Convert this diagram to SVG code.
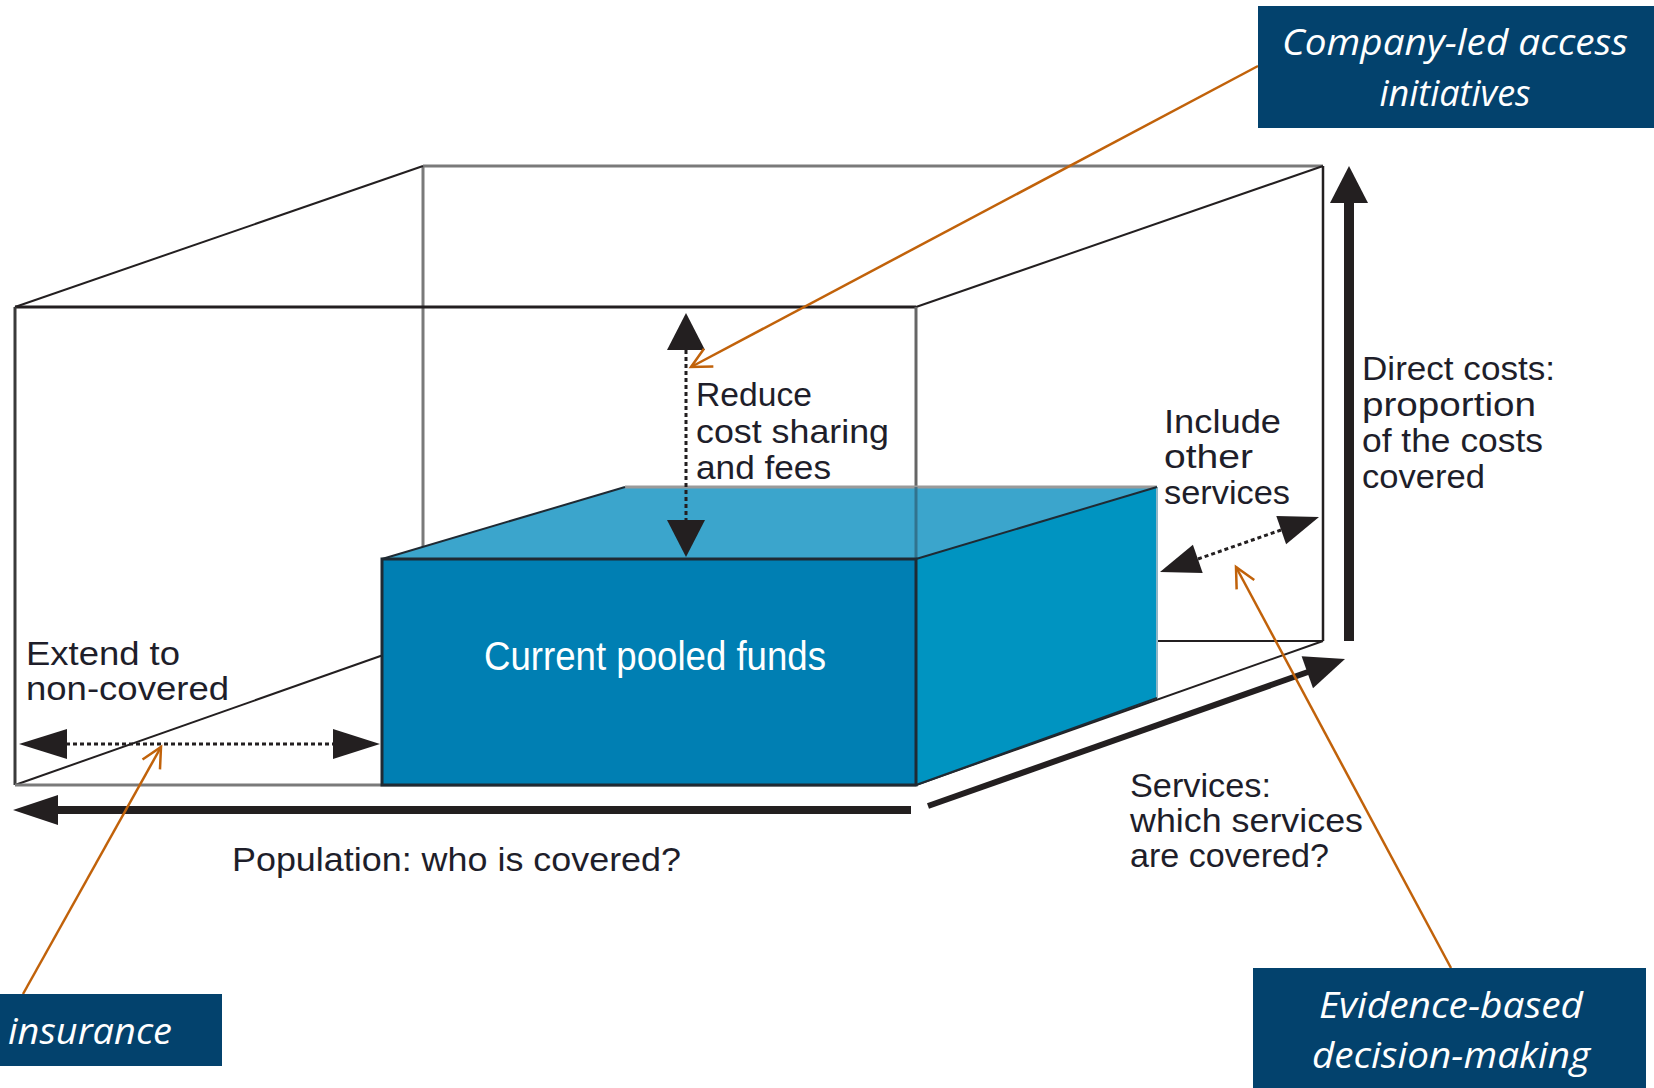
<svg xmlns="http://www.w3.org/2000/svg" width="1654" height="1088" viewBox="0 0 1654 1088">
<style>
  .lbl{font-family:"Liberation Sans Narrow","Liberation Sans",Arial,sans-serif;font-size:34px;fill:#1e1e2a}
  .call{font-family:"Open Sans","Noto Sans",sans-serif;font-style:italic;font-size:36px;fill:#ffffff}
  .navy{fill:#03426d}
  .wf-dark{stroke:#231f20;stroke-width:3;fill:none}
  .wf-gray{stroke:#7a7a7a;stroke-width:3;fill:none}
  .wf-thin{stroke:#231f20;stroke-width:2;fill:none}
  .dot{stroke:#231f20;stroke-width:3;stroke-dasharray:4 3;fill:none}
  .head{fill:#231f20}
  .orange{stroke:#c1620a;stroke-width:2.5;fill:none}
</style>
<defs>
  <marker id="open" markerUnits="userSpaceOnUse" markerWidth="30" markerHeight="30" refX="22" refY="12" viewBox="0 0 30 24" orient="auto">
    <path d="M2,2 L22,12 L2,22" fill="none" stroke="#c1620a" stroke-width="2.5"/>
  </marker>
</defs>
<rect width="1654" height="1088" fill="#ffffff"/>

<g id="wireframe">
  <line class="wf-gray" x1="423" y1="166" x2="1323" y2="166"/>
  <line class="wf-gray" x1="423" y1="166" x2="423" y2="641"/>
  <line class="wf-dark" x1="1323" y1="166" x2="1323" y2="641" style="stroke-width:2.5"/>
  <line class="wf-thin" x1="423" y1="641" x2="1323" y2="641"/>
  <line class="wf-thin" x1="15" y1="307" x2="423" y2="166"/>
  <line class="wf-thin" x1="916" y1="307" x2="1323" y2="166"/>
  <line class="wf-thin" x1="15" y1="785" x2="423" y2="641"/>
  <line class="wf-thin" x1="916" y1="785" x2="1323" y2="641"/>
  <line class="wf-dark" x1="15" y1="307" x2="916" y2="307"/>
  <line x1="15" y1="307" x2="15" y2="785" stroke="#3a3a3a" stroke-width="3"/>
  <line class="wf-gray" x1="15" y1="785" x2="916" y2="785"/>
  <line x1="916" y1="307" x2="916" y2="560" stroke="#666" stroke-width="3"/>
</g>

<g id="pooled-funds">
  <polygon points="382,559 625,487 1157,487 916,559" fill="#3ba5cc"/>
  <line x1="625" y1="487" x2="1157" y2="487" stroke="#9a9a9a" stroke-width="3"/>
  <polygon points="916,559 1157,487 1157,698 916,785" fill="#0094c1"/>
  <line x1="1157" y1="487" x2="1157" y2="698" stroke="#8fb6c6" stroke-width="2"/>
  <line x1="916" y1="487" x2="916" y2="559" stroke="#2e5f75" stroke-width="3" opacity="0.7"/>
  <line x1="382" y1="559" x2="625" y2="487" stroke="#1f2a33" stroke-width="2"/>
  <line x1="916" y1="559" x2="1157" y2="487" stroke="#1f2a33" stroke-width="2"/>
  <line x1="916" y1="785" x2="1157" y2="698" stroke="#1f2a33" stroke-width="2"/>
  <rect x="382" y="559" width="534" height="226" fill="#007fb3" stroke="#1f2a33" stroke-width="3"/>
  <text x="655" y="670" text-anchor="middle" textLength="342" lengthAdjust="spacingAndGlyphs" style="font-family:'Liberation Sans Narrow','Liberation Sans',Arial,sans-serif;font-size:40px;fill:#ffffff">Current pooled funds</text>
</g>

<g id="connectors">
  <line class="dot" x1="686" y1="350" x2="686" y2="520"/>
  <polygon class="head" points="686,313 667,350 705,350"/>
  <polygon class="head" points="686,557 667,520 705,520"/>
  <line class="dot" x1="1198" y1="559" x2="1281" y2="530"/>
  <polygon class="head" points="1160,572 1202.7,573.1 1192.9,544.7"/>
  <polygon class="head" points="1319,517 1286.1,544.3 1276.3,515.9"/>
  <line x1="1349" y1="641" x2="1349" y2="200" stroke="#231f20" stroke-width="10"/>
  <polygon class="head" points="1349,166 1330,203 1368,203"/>
  <line x1="928" y1="806" x2="1308" y2="672" stroke="#231f20" stroke-width="6"/>
  <polygon class="head" points="1345,659 1313,688.3 1301.6,656.3"/>
  <line x1="911" y1="810" x2="55" y2="810" stroke="#231f20" stroke-width="8"/>
  <polygon class="head" points="13,810 58,795 58,825"/>
  <line class="dot" x1="66" y1="744" x2="333" y2="744"/>
  <polygon class="head" points="19,744 67,729 67,759"/>
  <polygon class="head" points="380,744 333,729 333,759"/>
  <line class="orange" x1="1258" y1="66" x2="691" y2="367" marker-end="url(#open)"/>
  <line class="orange" x1="23" y1="994" x2="161" y2="747" marker-end="url(#open)"/>
  <line class="orange" x1="1451" y1="968" x2="1236" y2="567" marker-end="url(#open)"/>
</g>

<g id="labels">
  <text class="lbl" x="696" y="406" textLength="116" lengthAdjust="spacingAndGlyphs">Reduce</text>
  <text class="lbl" x="696" y="443" textLength="193" lengthAdjust="spacingAndGlyphs">cost sharing</text>
  <text class="lbl" x="696" y="479" textLength="135" lengthAdjust="spacingAndGlyphs">and fees</text>

  <text class="lbl" x="1164" y="433" textLength="117" lengthAdjust="spacingAndGlyphs">Include</text>
  <text class="lbl" x="1164" y="468" textLength="89" lengthAdjust="spacingAndGlyphs">other</text>
  <text class="lbl" x="1164" y="504" textLength="126" lengthAdjust="spacingAndGlyphs">services</text>

  <text class="lbl" x="1362" y="380" textLength="193" lengthAdjust="spacingAndGlyphs">Direct costs:</text>
  <text class="lbl" x="1362" y="416" textLength="174" lengthAdjust="spacingAndGlyphs">proportion</text>
  <text class="lbl" x="1362" y="452" textLength="181" lengthAdjust="spacingAndGlyphs">of the costs</text>
  <text class="lbl" x="1362" y="488" textLength="123" lengthAdjust="spacingAndGlyphs">covered</text>

  <text class="lbl" x="26" y="665" textLength="154" lengthAdjust="spacingAndGlyphs">Extend to</text>
  <text class="lbl" x="26" y="700" textLength="203" lengthAdjust="spacingAndGlyphs">non-covered</text>

  <text class="lbl" x="232" y="871" textLength="449" lengthAdjust="spacingAndGlyphs">Population: who is covered?</text>

  <text class="lbl" x="1130" y="797" textLength="141" lengthAdjust="spacingAndGlyphs">Services:</text>
  <text class="lbl" x="1130" y="832" textLength="233" lengthAdjust="spacingAndGlyphs">which services</text>
  <text class="lbl" x="1130" y="867" textLength="199" lengthAdjust="spacingAndGlyphs">are covered?</text>
</g>

<g id="company-led">
  <rect class="navy" x="1258" y="6" width="396" height="122"/>
  <text class="call" x="1455" y="55" text-anchor="middle" textLength="346" lengthAdjust="spacingAndGlyphs">Company-led access</text>
  <text class="call" x="1455" y="106" text-anchor="middle">initiatives</text>
</g>

<g id="insurance">
  <rect class="navy" x="0" y="994" width="222" height="72"/>
  <text class="call" x="8" y="1044" textLength="164" lengthAdjust="spacingAndGlyphs">insurance</text>
</g>

<g id="evidence">
  <rect class="navy" x="1253" y="968" width="393" height="120"/>
  <text class="call" x="1451" y="1018" text-anchor="middle" textLength="264" lengthAdjust="spacingAndGlyphs">Evidence-based</text>
  <text class="call" x="1451" y="1068" text-anchor="middle" textLength="278" lengthAdjust="spacingAndGlyphs">decision-making</text>
</g>
</svg>
